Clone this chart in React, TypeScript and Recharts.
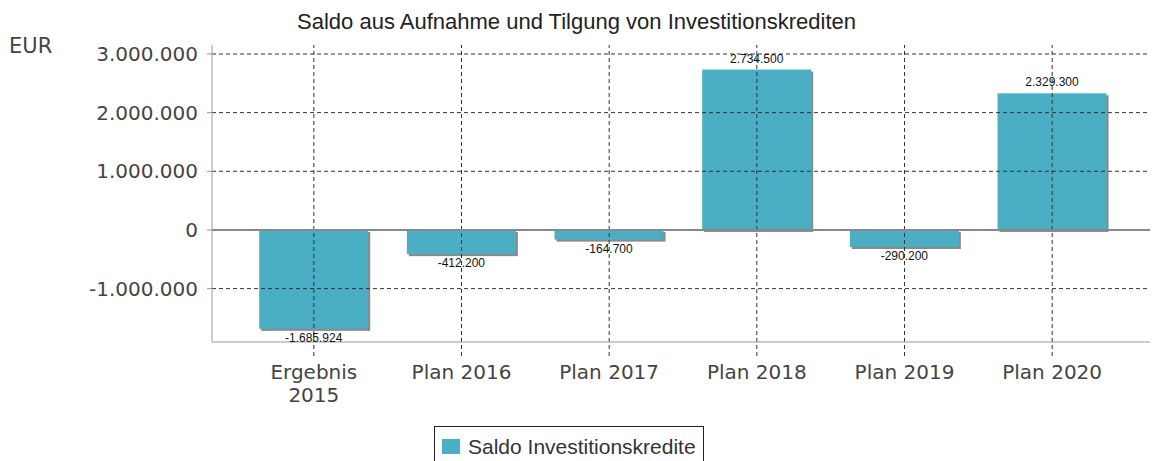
import React from 'react';
import { BarChart, Bar, XAxis, YAxis, Legend, ReferenceLine, LabelList } from 'recharts';

// categories and values
const categories = ['Ergebnis\n2015', 'Plan 2016', 'Plan 2017', 'Plan 2018', 'Plan 2019', 'Plan 2020'];
const saldo = [-1685924, -412200, -164700, 2734500, -290200, 2329300];
const yTicks = [-1000000, 0, 1000000, 2000000, 3000000];

const SERIES_NAME = 'Saldo Investitionskredite';
const BAR_COLOR = '#4aafc4';

const data = categories.map((name, i) => ({ name, saldo: saldo[i] }));

const fmt = (v: number) => {
  const s = Math.abs(Math.round(v)).toString().replace(/\B(?=(\d{3})+(?!\d))/g, '.');
  return v < 0 ? '-' + s : s;
};

// bar with a small grey drop shadow on the right and bottom
const ShadowBar = (props: any) => {
  const { x, y, width, height } = props;
  const top = Math.min(y, y + height);
  const h = Math.abs(height);
  return (
    <g>
      <rect x={x + 2} y={top + 2} width={width} height={h} fill="#8a8a8a" />
      <rect x={x} y={top} width={width} height={h} fill={BAR_COLOR} />
    </g>
  );
};

const ValueLabel = (props: any) => {
  const { x, y, width, height, value } = props;
  const top = Math.min(y, y + height);
  const bottom = Math.max(y, y + height);
  const ty = value >= 0 ? top - 7 : bottom + 13;
  return (
    <text x={x + width / 2} y={ty} textAnchor="middle" fontSize={12} fontFamily="Liberation Sans, Arial" fill="#111">
      {fmt(value)}
    </text>
  );
};

const CategoryTick = (props: any) => {
  const { x, y, payload } = props;
  const lines = String(payload.value).split('\n');
  return (
    <text x={x} y={y} textAnchor="middle" fontSize={20} fontFamily="DejaVu Sans" fill="#444">
      {lines.map((l, i) => (
        <tspan key={i} x={x} dy={i === 0 ? 21 : 23}>{l}</tspan>
      ))}
    </text>
  );
};

const LegendBox = () => (
  <div style={{ display: 'flex', justifyContent: 'flex-start', paddingLeft: 434 }}>
    <div style={{ border: '1px solid #222', height: 40, display: 'flex', alignItems: 'flex-start', padding: '0 7px', boxSizing: 'border-box' }}>
      <span style={{ display: 'inline-block', width: 18, height: 15, background: BAR_COLOR, marginTop: 12, marginRight: 8 }} />
      <span style={{ fontFamily: 'Liberation Sans, Arial', fontSize: 21, color: '#333', marginTop: 8 }}>{SERIES_NAME}</span>
    </div>
  </div>
);

export default function App() {
  return (
    <div style={{ position: 'absolute', left: 0, top: 0, width: 1153, height: 461, background: '#fff', overflow: 'hidden' }}>
      <div style={{ position: 'absolute', left: 0, top: 9, width: 1153, textAlign: 'center', fontFamily: 'Liberation Sans, Arial', fontSize: 22, color: '#222' }}>
        Saldo aus Aufnahme und Tilgung von Investitionskrediten
      </div>
      <div style={{ position: 'absolute', left: 9, top: 34, fontFamily: 'DejaVu Sans', fontSize: 21, color: '#444' }}>EUR</div>
      <BarChart
        width={1153}
        height={461}
        data={data}
        margin={{ top: 45, right: 3, bottom: 0, left: 0 }}
        barCategoryGap="13%"
      >
        {/* dashed grid, only at the ticks (no frame lines) */}
        {yTicks.filter((t) => t !== 0).map((t) => (
          <ReferenceLine key={t} y={t} stroke="#333" strokeDasharray="4 3" />
        ))}
        {categories.map((c) => (
          <ReferenceLine key={c} x={c} stroke="#333" strokeDasharray="4 3" />
        ))}
        <XAxis
          dataKey="name"
          height={84}
          padding={{ left: 28, right: 24 }}
          axisLine={{ stroke: '#999' }}
          tickLine={{ stroke: '#333', strokeDasharray: '4 3' }}
          tickSize={14}
          tick={<CategoryTick />}
          interval={0}
        />
        <YAxis
          width={212}
          domain={[-1910000, 3153000]}
          ticks={yTicks}
          tickFormatter={fmt}
          axisLine={{ stroke: '#999' }}
          tickLine={{ stroke: '#999' }}
          tickSize={5}
          tickMargin={9}
          tick={{ fontSize: 20, fontFamily: 'DejaVu Sans', fill: '#444' }}
        />
        <ReferenceLine y={0} stroke="#888" strokeWidth={2} />
        <Legend verticalAlign="bottom" height={35} content={<LegendBox />} />
        <Bar dataKey="saldo" name={SERIES_NAME} fill={BAR_COLOR} shape={<ShadowBar />} isAnimationActive={false}>
          <LabelList dataKey="saldo" content={<ValueLabel />} />
        </Bar>
      </BarChart>
    </div>
  );
}
